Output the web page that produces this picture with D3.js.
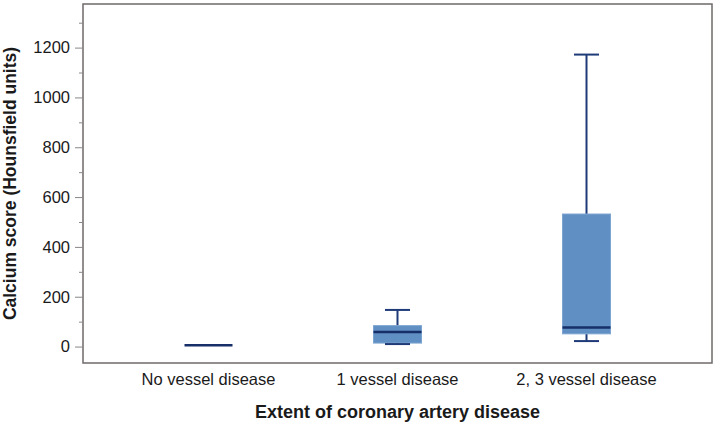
<!DOCTYPE html>
<html><head><meta charset="utf-8">
<script src="https://cdn.jsdelivr.net/npm/d3@7"></script>
<style>html,body{margin:0;padding:0;background:#fff;}svg{display:block;}</style>
</head><body>
<svg id="c" width="717" height="425"></svg>
<script>
const categories = ["No vessel disease", "1 vessel disease", "2, 3 vessel disease"];
const whiskerLow = [5, 10, 22];
const q1 = [5, 14, 51];
const median = [5, 58, 76];
const q3 = [5, 84, 532];
const whiskerHigh = [5, 147, 1172];
const majorTicks = [0, 200, 400, 600, 800, 1000, 1200];
const minorTicks = [100, 300, 500, 700, 900, 1100, 1300];

const svg = d3.select("#c");
const L = 83, R = 712, T = 4, B = 363;
const font = "'Liberation Sans', Arial, sans-serif";

const y = d3.scaleLinear().domain([-66, 1375]).range([B, T]);
const x = d3.scalePoint().domain(categories).range([L, R]).padding(0.664);
const boxW = 48, capW = 25;

// frame
svg.append("rect").attr("x", L).attr("y", T).attr("width", R - L).attr("height", B - T)
  .attr("fill", "#fff").attr("stroke", "#6f6a6a").attr("stroke-width", 1.5);

// y axis
const axis = svg.append("g").attr("transform", `translate(${L},0)`)
  .call(d3.axisLeft(y).tickValues(majorTicks).tickSize(8).tickPadding(5).tickFormat(d3.format("d")));
axis.select(".domain").remove();
axis.selectAll(".tick line").attr("stroke", "#8a8686");
axis.selectAll(".tick text").attr("font-family", font).attr("font-size", 16.5).attr("fill", "#1a1a1a");
const minor = svg.append("g").attr("transform", `translate(${L},0)`)
  .call(d3.axisLeft(y).tickValues(minorTicks).tickSize(4).tickFormat(""));
minor.select(".domain").remove();
minor.selectAll(".tick line").attr("stroke", "#8a8686");

// boxes
const data = categories.map((c, i) => ({c, lo: whiskerLow[i], q1: q1[i], med: median[i], q3: q3[i], hi: whiskerHigh[i]}));
const g = svg.append("g");
const navy = "#1f3a78";
data.forEach(d => {
  const cx = x(d.c);
  g.append("line").attr("x1", cx).attr("x2", cx).attr("y1", y(d.hi)).attr("y2", y(d.q3))
    .attr("stroke", navy).attr("stroke-width", 2);
  g.append("line").attr("x1", cx).attr("x2", cx).attr("y1", y(d.lo)).attr("y2", y(d.q1))
    .attr("stroke", navy).attr("stroke-width", 2);
  if (d.q3 > d.q1) {
    g.append("rect").attr("x", cx - boxW / 2).attr("y", y(d.q3)).attr("width", boxW)
      .attr("height", y(d.q1) - y(d.q3)).attr("fill", "#5f8fc3").attr("stroke", "#7ea5d2").attr("stroke-width", 1);
  }
  if (d.hi > d.q3) g.append("line").attr("x1", cx - capW / 2).attr("x2", cx + capW / 2)
    .attr("y1", y(d.hi)).attr("y2", y(d.hi)).attr("stroke", navy).attr("stroke-width", 2);
  if (d.lo < d.q1) g.append("line").attr("x1", cx - capW / 2).attr("x2", cx + capW / 2)
    .attr("y1", y(d.lo)).attr("y2", y(d.lo)).attr("stroke", navy).attr("stroke-width", 2);
  g.append("line").attr("x1", cx - boxW / 2).attr("x2", cx + boxW / 2)
    .attr("y1", y(d.med)).attr("y2", y(d.med)).attr("stroke", "#172f68").attr("stroke-width", 2.5);
});

// x labels
svg.append("g").selectAll("text").data(categories).join("text")
  .attr("x", d => x(d)).attr("y", 385).attr("text-anchor", "middle")
  .attr("font-family", font).attr("font-size", 16.5).attr("fill", "#1a1a1a").text(d => d);

svg.append("text").attr("x", (L + R) / 2).attr("y", 418).attr("text-anchor", "middle")
  .attr("font-family", font).attr("font-size", 18).attr("font-weight", "bold").attr("fill", "#1a1a1a")
  .text("Extent of coronary artery disease");

svg.append("text").attr("transform", `translate(15.5,${(T + B) / 2}) rotate(-90)`).attr("text-anchor", "middle")
  .attr("font-family", font).attr("font-size", 17.5).attr("font-weight", "bold").attr("fill", "#1a1a1a")
  .text("Calcium score (Hounsfield units)");
</script>
</body></html>
